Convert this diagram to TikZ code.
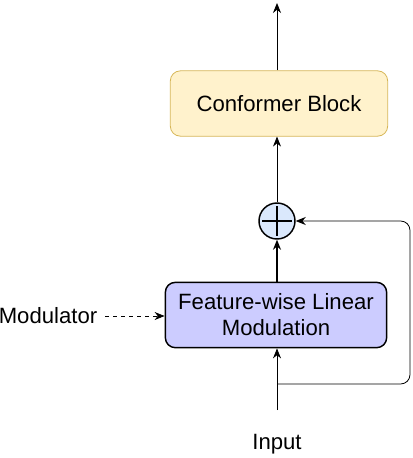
\documentclass[tikz,border=0pt]{standalone}
\usepackage{fontspec}
\setmainfont{Liberation Sans}
\usetikzlibrary{arrows.meta}
\definecolor{confFill}{HTML}{FFF2CC}
\definecolor{confDraw}{HTML}{D6B656}
\definecolor{filmFill}{HTML}{CCCCFF}
\definecolor{sumFill}{HTML}{DAE8FC}
\begin{document}
\begin{tikzpicture}[x=0.75pt,y=-0.75pt,
  every node/.style={font=\fontsize{16.6}{19.5}\selectfont},
  blockbox/.style={draw, rounded corners=7.5pt, minimum width=163pt, minimum height=49pt, align=center, inner sep=0pt},
  arr/.style={-{Stealth[length=7.5pt,width=6pt]}, line width=0.6pt},
  thickarr/.style={-{Stealth[length=7.5pt,width=6pt]}, line width=1.2pt}]
\useasboundingbox (0,0) rectangle (412,458);
\node[blockbox, draw=confDraw, fill=confFill, line width=0.6pt] (conf) at (279,103.5) {Conformer Block};
\node[blockbox, fill=filmFill, line width=1.1pt, minimum width=166pt] (film) at (276,315) {Feature-wise Linear\\Modulation};
\node[circle, draw, fill=sumFill, line width=1.1pt, minimum size=27pt, inner sep=0pt] (sum) at (277,221) {};
\draw[line width=1.1pt] ([xshift=-11pt]sum.center) -- ([xshift=11pt]sum.center);
\draw[line width=1.1pt] ([yshift=-11pt]sum.center) -- ([yshift=11pt]sum.center);
\coordinate (top) at (277,3);
\node (mod) at (48,316) {Modulator};
\node (inp) at (277,444) {Input};
\coordinate (inbot) at (277,410);
\coordinate (br) at (277,384);
\coordinate (rc) at (410,384);
\draw[arr] (conf.north -| top) -- (top);
\draw[arr] (sum.north) -- (conf.south -| sum);
\draw[thickarr] (film.north -| sum) -- (sum.south);
\draw[arr, dashed] (105,316) -- (film.west |- 0,316);
\draw[arr] (inbot) -- (film.south -| inbot);
\draw[arr, rounded corners=7pt] (br) -- (rc) -- (rc |- sum) -- (sum.east);
\end{tikzpicture}
\end{document}
